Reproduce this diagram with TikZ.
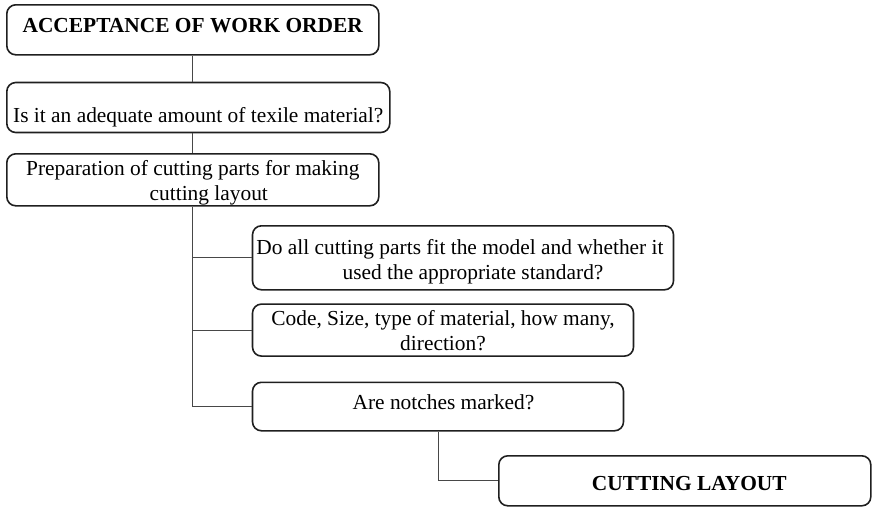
\documentclass[tikz,border=0pt]{standalone}
\usepackage{fontspec}
\setmainfont{Liberation Serif}
% text block of a box: width, height, first-baseline drop, lines
\newcommand\bxtext[4]{\parbox[c][#2][t]{#1}{\centering\rule{0pt}{#3}#4}}
\begin{document}
\begin{tikzpicture}[x=1pt, y=-1pt,
  font=\fontsize{21.4pt}{25.5pt}\selectfont,
  stepbox/.style={draw=black!88, line width=1.6pt, rounded corners=9pt,
    inner sep=0pt, anchor=north west},
  link/.style={draw=black!72, line width=0.9pt}]
\useasboundingbox (0,0) rectangle (872,506);

\node[stepbox] (b1) at (6,4)
  {\bxtext{372pt}{50pt}{27.7pt}{\textbf{ACCEPTANCE OF WORK ORDER}}};
\node[stepbox] (b2) at (6,81.7)
  {\bxtext{383pt}{50pt}{40pt}{Is it an adequate amount of texile material?}};
\node[stepbox] (b3) at (6,153)
  {\bxtext{372pt}{52pt}{21.3pt}{Preparation of cutting parts for making\\
   \hspace*{32pt}cutting layout}};
\node[stepbox] (b4) at (251.7,225)
  {\bxtext{421pt}{64pt}{28.3pt}{Do all cutting parts fit the model and whether it\kern6pt\\
   \hspace*{20pt}used the appropriate standard?}};
\node[stepbox] (b5) at (251.7,303.3)
  {\bxtext{381pt}{52pt}{21pt}{Code, Size, type of material, how many,\\
   direction?}};
\node[stepbox] (b6) at (251.7,381.5)
  {\bxtext{371pt}{48.5pt}{27pt}{\hspace*{11pt}Are notches marked?}};
\node[stepbox] (b7) at (498,455)
  {\bxtext{372pt}{50pt}{35pt}{\hspace*{9pt}\textbf{CUTTING LAYOUT}}};

% main chain
\draw[link] (b1.south) -- (b1.south |- b2.north);
\draw[link] (b3.north) -- (b3.north |- b2.south);
% trunk with its three branches
\draw[link] (b3.south) -- (b3.south |- b6.west) -- (b6.west);
\draw[link] (b3.south |- b4.west) -- (b4.west);
\draw[link] (b3.south |- b5.west) -- (b5.west);
% to the final layout
\draw[link] (b6.south) -- (b6.south |- b7.west) -- (b7.west);
\end{tikzpicture}
\end{document}
